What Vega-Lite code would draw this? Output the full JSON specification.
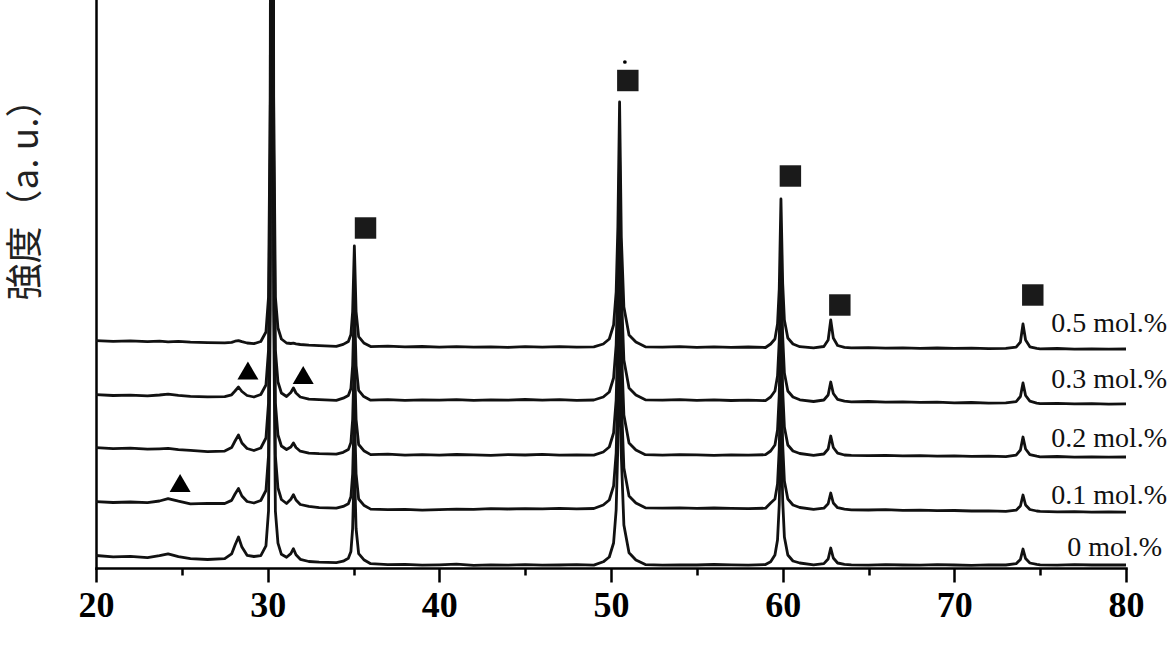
{
"$schema": "https://vega.github.io/schema/vega-lite/v6.json",
"width": 1030,
"height": 568,
"autosize": {"type": "none"},
"padding": {"left": 96, "top": 0, "right": 44, "bottom": 82},
"background": "white",
"config": {"view": {"stroke": null}},
"datasets": {
"traces": [
{"c":"0 mol.%","x":20,"y":12.5},{"c":"0 mol.%","x":21,"y":11.2},{"c":"0 mol.%","x":22,"y":11.6},{"c":"0 mol.%","x":23,"y":10.4},{"c":"0 mol.%","x":23.7,"y":12.3},{"c":"0 mol.%","x":24.2,"y":14.2},{"c":"0 mol.%","x":24.8,"y":11.4},{"c":"0 mol.%","x":25.5,"y":9.4},{"c":"0 mol.%","x":26.5,"y":8.5},{"c":"0 mol.%","x":27.5,"y":9.4},{"c":"0 mol.%","x":27.9,"y":14.1},{"c":"0 mol.%","x":28.1,"y":23},{"c":"0 mol.%","x":28.3,"y":31},{"c":"0 mol.%","x":28.5,"y":20.9},{"c":"0 mol.%","x":28.8,"y":12.7},{"c":"0 mol.%","x":29.2,"y":11.5},{"c":"0 mol.%","x":29.6,"y":12.3},{"c":"0 mol.%","x":29.9,"y":22.2},{"c":"0 mol.%","x":30.05,"y":57.1},{"c":"0 mol.%","x":30.15,"y":257},{"c":"0 mol.%","x":30.2,"y":907},{"c":"0 mol.%","x":30.25,"y":3007},{"c":"0 mol.%","x":30.3,"y":907},{"c":"0 mol.%","x":30.35,"y":257},{"c":"0 mol.%","x":30.45,"y":56.9},{"c":"0 mol.%","x":30.6,"y":24.8},{"c":"0 mol.%","x":30.8,"y":13.7},{"c":"0 mol.%","x":31.1,"y":10.8},{"c":"0 mol.%","x":31.35,"y":14.4},{"c":"0 mol.%","x":31.5,"y":19.3},{"c":"0 mol.%","x":31.65,"y":13.2},{"c":"0 mol.%","x":31.9,"y":8.7},{"c":"0 mol.%","x":32.4,"y":6.5},{"c":"0 mol.%","x":33,"y":5.8},{"c":"0 mol.%","x":34,"y":5.4},{"c":"0 mol.%","x":34.4,"y":6.8},{"c":"0 mol.%","x":34.7,"y":9.7},{"c":"0 mol.%","x":34.85,"y":16.6},{"c":"0 mol.%","x":34.95,"y":39.6},{"c":"0 mol.%","x":35.05,"y":104.5},{"c":"0 mol.%","x":35.15,"y":39.5},{"c":"0 mol.%","x":35.3,"y":14.4},{"c":"0 mol.%","x":35.6,"y":8.3},{"c":"0 mol.%","x":36,"y":4.3},{"c":"0 mol.%","x":37,"y":3.4},{"c":"0 mol.%","x":38,"y":3.6},{"c":"0 mol.%","x":39,"y":2.8},{"c":"0 mol.%","x":40,"y":3.2},{"c":"0 mol.%","x":41,"y":3.8},{"c":"0 mol.%","x":42,"y":2.7},{"c":"0 mol.%","x":43,"y":3.1},{"c":"0 mol.%","x":44,"y":2.9},{"c":"0 mol.%","x":45,"y":3.4},{"c":"0 mol.%","x":46,"y":2.8},{"c":"0 mol.%","x":47,"y":3.0},{"c":"0 mol.%","x":48,"y":3.3},{"c":"0 mol.%","x":49,"y":2.9},{"c":"0 mol.%","x":49.55,"y":6.2},{"c":"0 mol.%","x":49.9,"y":11},{"c":"0 mol.%","x":50.15,"y":25},{"c":"0 mol.%","x":50.3,"y":58},{"c":"0 mol.%","x":50.4,"y":123},{"c":"0 mol.%","x":50.5,"y":248},{"c":"0 mol.%","x":50.6,"y":113},{"c":"0 mol.%","x":50.75,"y":43},{"c":"0 mol.%","x":51.05,"y":15.2},{"c":"0 mol.%","x":51.45,"y":8},{"c":"0 mol.%","x":52,"y":3.4},{"c":"0 mol.%","x":53,"y":2.9},{"c":"0 mol.%","x":54,"y":3.2},{"c":"0 mol.%","x":55,"y":3.0},{"c":"0 mol.%","x":56,"y":3.5},{"c":"0 mol.%","x":57,"y":3.1},{"c":"0 mol.%","x":58,"y":2.8},{"c":"0 mol.%","x":59,"y":3.4},{"c":"0 mol.%","x":59.3,"y":6.2},{"c":"0 mol.%","x":59.55,"y":13},{"c":"0 mol.%","x":59.7,"y":28},{"c":"0 mol.%","x":59.8,"y":63},{"c":"0 mol.%","x":59.9,"y":152},{"c":"0 mol.%","x":60.0,"y":68},{"c":"0 mol.%","x":60.1,"y":31},{"c":"0 mol.%","x":60.3,"y":13},{"c":"0 mol.%","x":60.6,"y":7},{"c":"0 mol.%","x":61,"y":5},{"c":"0 mol.%","x":61.8,"y":3.2},{"c":"0 mol.%","x":62.4,"y":4.4},{"c":"0 mol.%","x":62.65,"y":9},{"c":"0 mol.%","x":62.8,"y":20},{"c":"0 mol.%","x":62.95,"y":10},{"c":"0 mol.%","x":63.2,"y":5},{"c":"0 mol.%","x":63.6,"y":3.7},{"c":"0 mol.%","x":64,"y":3.1},{"c":"0 mol.%","x":65,"y":2.8},{"c":"0 mol.%","x":66,"y":3.3},{"c":"0 mol.%","x":67,"y":3.0},{"c":"0 mol.%","x":68,"y":2.9},{"c":"0 mol.%","x":69,"y":3.4},{"c":"0 mol.%","x":70,"y":3.0},{"c":"0 mol.%","x":71,"y":2.7},{"c":"0 mol.%","x":72,"y":3.2},{"c":"0 mol.%","x":73,"y":3.0},{"c":"0 mol.%","x":73.6,"y":4.3},{"c":"0 mol.%","x":73.85,"y":8.6},{"c":"0 mol.%","x":74.0,"y":19},{"c":"0 mol.%","x":74.15,"y":9.4},{"c":"0 mol.%","x":74.4,"y":5},{"c":"0 mol.%","x":74.8,"y":3.6},{"c":"0 mol.%","x":75,"y":3.1},{"c":"0 mol.%","x":76,"y":2.9},{"c":"0 mol.%","x":77,"y":3.3},{"c":"0 mol.%","x":78,"y":3.0},{"c":"0 mol.%","x":79,"y":3.2},{"c":"0 mol.%","x":80,"y":3.0},
{"c":"0.1 mol.%","x":20,"y":66.4},{"c":"0.1 mol.%","x":21,"y":65.5},{"c":"0.1 mol.%","x":22,"y":66.0},{"c":"0.1 mol.%","x":23,"y":65.3},{"c":"0.1 mol.%","x":23.7,"y":67.0},{"c":"0.1 mol.%","x":24.2,"y":69.3},{"c":"0.1 mol.%","x":24.8,"y":66.8},{"c":"0.1 mol.%","x":25.5,"y":64.2},{"c":"0.1 mol.%","x":26.5,"y":64.6},{"c":"0.1 mol.%","x":27.5,"y":64.5},{"c":"0.1 mol.%","x":27.9,"y":67.6},{"c":"0.1 mol.%","x":28.1,"y":74},{"c":"0.1 mol.%","x":28.3,"y":79.5},{"c":"0.1 mol.%","x":28.5,"y":72},{"c":"0.1 mol.%","x":28.8,"y":66.5},{"c":"0.1 mol.%","x":29.2,"y":65},{"c":"0.1 mol.%","x":29.6,"y":67.5},{"c":"0.1 mol.%","x":29.9,"y":77.5},{"c":"0.1 mol.%","x":30.05,"y":112.5},{"c":"0.1 mol.%","x":30.15,"y":312},{"c":"0.1 mol.%","x":30.2,"y":962},{"c":"0.1 mol.%","x":30.25,"y":3062},{"c":"0.1 mol.%","x":30.3,"y":962},{"c":"0.1 mol.%","x":30.35,"y":312},{"c":"0.1 mol.%","x":30.45,"y":112},{"c":"0.1 mol.%","x":30.6,"y":80},{"c":"0.1 mol.%","x":30.8,"y":68.5},{"c":"0.1 mol.%","x":31.1,"y":64.5},{"c":"0.1 mol.%","x":31.35,"y":68.8},{"c":"0.1 mol.%","x":31.5,"y":73.4},{"c":"0.1 mol.%","x":31.65,"y":68},{"c":"0.1 mol.%","x":31.9,"y":63.5},{"c":"0.1 mol.%","x":32.4,"y":61.6},{"c":"0.1 mol.%","x":33,"y":60.3},{"c":"0.1 mol.%","x":34,"y":59.8},{"c":"0.1 mol.%","x":34.4,"y":61.6},{"c":"0.1 mol.%","x":34.7,"y":64.3},{"c":"0.1 mol.%","x":34.85,"y":71.2},{"c":"0.1 mol.%","x":34.95,"y":94},{"c":"0.1 mol.%","x":35.05,"y":159},{"c":"0.1 mol.%","x":35.15,"y":94},{"c":"0.1 mol.%","x":35.3,"y":69},{"c":"0.1 mol.%","x":35.6,"y":62.8},{"c":"0.1 mol.%","x":36,"y":58.9},{"c":"0.1 mol.%","x":37,"y":58.3},{"c":"0.1 mol.%","x":38,"y":58.7},{"c":"0.1 mol.%","x":39,"y":57.9},{"c":"0.1 mol.%","x":40,"y":58.3},{"c":"0.1 mol.%","x":41,"y":58.9},{"c":"0.1 mol.%","x":42,"y":58.6},{"c":"0.1 mol.%","x":43,"y":59.3},{"c":"0.1 mol.%","x":44,"y":59.0},{"c":"0.1 mol.%","x":45,"y":59.4},{"c":"0.1 mol.%","x":46,"y":59.1},{"c":"0.1 mol.%","x":47,"y":59.6},{"c":"0.1 mol.%","x":48,"y":59.2},{"c":"0.1 mol.%","x":49,"y":59.5},{"c":"0.1 mol.%","x":49.55,"y":63},{"c":"0.1 mol.%","x":49.9,"y":68},{"c":"0.1 mol.%","x":50.15,"y":82},{"c":"0.1 mol.%","x":50.3,"y":115},{"c":"0.1 mol.%","x":50.4,"y":180},{"c":"0.1 mol.%","x":50.5,"y":305},{"c":"0.1 mol.%","x":50.6,"y":170},{"c":"0.1 mol.%","x":50.75,"y":100},{"c":"0.1 mol.%","x":51.05,"y":72},{"c":"0.1 mol.%","x":51.45,"y":65},{"c":"0.1 mol.%","x":52,"y":60.2},{"c":"0.1 mol.%","x":53,"y":59.8},{"c":"0.1 mol.%","x":54,"y":60.1},{"c":"0.1 mol.%","x":55,"y":59.7},{"c":"0.1 mol.%","x":56,"y":60.0},{"c":"0.1 mol.%","x":57,"y":59.6},{"c":"0.1 mol.%","x":58,"y":59.4},{"c":"0.1 mol.%","x":59,"y":59.8},{"c":"0.1 mol.%","x":59.3,"y":65},{"c":"0.1 mol.%","x":59.55,"y":69},{"c":"0.1 mol.%","x":59.7,"y":84},{"c":"0.1 mol.%","x":59.8,"y":119},{"c":"0.1 mol.%","x":59.9,"y":208},{"c":"0.1 mol.%","x":60.0,"y":124},{"c":"0.1 mol.%","x":60.1,"y":87},{"c":"0.1 mol.%","x":60.3,"y":69},{"c":"0.1 mol.%","x":60.6,"y":63},{"c":"0.1 mol.%","x":61,"y":60.5},{"c":"0.1 mol.%","x":61.8,"y":58.6},{"c":"0.1 mol.%","x":62.4,"y":59.8},{"c":"0.1 mol.%","x":62.65,"y":64.2},{"c":"0.1 mol.%","x":62.8,"y":75},{"c":"0.1 mol.%","x":62.95,"y":65},{"c":"0.1 mol.%","x":63.2,"y":60.3},{"c":"0.1 mol.%","x":63.6,"y":58.9},{"c":"0.1 mol.%","x":64,"y":58.2},{"c":"0.1 mol.%","x":65,"y":58.0},{"c":"0.1 mol.%","x":66,"y":58.4},{"c":"0.1 mol.%","x":67,"y":57.6},{"c":"0.1 mol.%","x":68,"y":57.9},{"c":"0.1 mol.%","x":69,"y":57.3},{"c":"0.1 mol.%","x":70,"y":57.5},{"c":"0.1 mol.%","x":71,"y":57.0},{"c":"0.1 mol.%","x":72,"y":57.2},{"c":"0.1 mol.%","x":73,"y":56.6},{"c":"0.1 mol.%","x":73.6,"y":57.8},{"c":"0.1 mol.%","x":73.85,"y":62},{"c":"0.1 mol.%","x":74.0,"y":73},{"c":"0.1 mol.%","x":74.15,"y":63},{"c":"0.1 mol.%","x":74.4,"y":58.5},{"c":"0.1 mol.%","x":74.8,"y":57},{"c":"0.1 mol.%","x":75,"y":56.6},{"c":"0.1 mol.%","x":76,"y":56.2},{"c":"0.1 mol.%","x":77,"y":56.4},{"c":"0.1 mol.%","x":78,"y":55.9},{"c":"0.1 mol.%","x":79,"y":56.1},{"c":"0.1 mol.%","x":80,"y":55.8},
{"c":"0.2 mol.%","x":20,"y":120.3},{"c":"0.2 mol.%","x":21,"y":119.4},{"c":"0.2 mol.%","x":22,"y":119.8},{"c":"0.2 mol.%","x":23,"y":118.9},{"c":"0.2 mol.%","x":23.7,"y":119.2},{"c":"0.2 mol.%","x":24.2,"y":119.6},{"c":"0.2 mol.%","x":24.8,"y":118.3},{"c":"0.2 mol.%","x":25.5,"y":117.6},{"c":"0.2 mol.%","x":26.5,"y":116.4},{"c":"0.2 mol.%","x":27.5,"y":116.9},{"c":"0.2 mol.%","x":27.9,"y":120.4},{"c":"0.2 mol.%","x":28.1,"y":127},{"c":"0.2 mol.%","x":28.3,"y":133},{"c":"0.2 mol.%","x":28.5,"y":125},{"c":"0.2 mol.%","x":28.8,"y":119.5},{"c":"0.2 mol.%","x":29.2,"y":117.5},{"c":"0.2 mol.%","x":29.6,"y":120},{"c":"0.2 mol.%","x":29.9,"y":130},{"c":"0.2 mol.%","x":30.05,"y":165},{"c":"0.2 mol.%","x":30.15,"y":365},{"c":"0.2 mol.%","x":30.2,"y":1015},{"c":"0.2 mol.%","x":30.25,"y":3115},{"c":"0.2 mol.%","x":30.3,"y":1015},{"c":"0.2 mol.%","x":30.35,"y":365},{"c":"0.2 mol.%","x":30.45,"y":165},{"c":"0.2 mol.%","x":30.6,"y":133},{"c":"0.2 mol.%","x":30.8,"y":122},{"c":"0.2 mol.%","x":31.1,"y":118.5},{"c":"0.2 mol.%","x":31.35,"y":121},{"c":"0.2 mol.%","x":31.5,"y":125},{"c":"0.2 mol.%","x":31.65,"y":120.5},{"c":"0.2 mol.%","x":31.9,"y":116.8},{"c":"0.2 mol.%","x":32.4,"y":114.9},{"c":"0.2 mol.%","x":33,"y":114.3},{"c":"0.2 mol.%","x":34,"y":113.8},{"c":"0.2 mol.%","x":34.4,"y":115.7},{"c":"0.2 mol.%","x":34.7,"y":118.4},{"c":"0.2 mol.%","x":34.85,"y":125.6},{"c":"0.2 mol.%","x":34.95,"y":148.4},{"c":"0.2 mol.%","x":35.05,"y":213.5},{"c":"0.2 mol.%","x":35.15,"y":148.5},{"c":"0.2 mol.%","x":35.3,"y":123.5},{"c":"0.2 mol.%","x":35.6,"y":117.3},{"c":"0.2 mol.%","x":36,"y":113.4},{"c":"0.2 mol.%","x":37,"y":113.8},{"c":"0.2 mol.%","x":38,"y":112.9},{"c":"0.2 mol.%","x":39,"y":113.3},{"c":"0.2 mol.%","x":40,"y":112.8},{"c":"0.2 mol.%","x":41,"y":113.5},{"c":"0.2 mol.%","x":42,"y":113.1},{"c":"0.2 mol.%","x":43,"y":112.7},{"c":"0.2 mol.%","x":44,"y":113.4},{"c":"0.2 mol.%","x":45,"y":113.0},{"c":"0.2 mol.%","x":46,"y":113.6},{"c":"0.2 mol.%","x":47,"y":112.9},{"c":"0.2 mol.%","x":48,"y":113.2},{"c":"0.2 mol.%","x":49,"y":112.8},{"c":"0.2 mol.%","x":49.55,"y":116},{"c":"0.2 mol.%","x":49.9,"y":121},{"c":"0.2 mol.%","x":50.15,"y":135},{"c":"0.2 mol.%","x":50.3,"y":168},{"c":"0.2 mol.%","x":50.4,"y":233},{"c":"0.2 mol.%","x":50.5,"y":358},{"c":"0.2 mol.%","x":50.6,"y":223},{"c":"0.2 mol.%","x":50.75,"y":153},{"c":"0.2 mol.%","x":51.05,"y":125},{"c":"0.2 mol.%","x":51.45,"y":118},{"c":"0.2 mol.%","x":52,"y":113.3},{"c":"0.2 mol.%","x":53,"y":112.9},{"c":"0.2 mol.%","x":54,"y":113.4},{"c":"0.2 mol.%","x":55,"y":113.1},{"c":"0.2 mol.%","x":56,"y":112.7},{"c":"0.2 mol.%","x":57,"y":113.2},{"c":"0.2 mol.%","x":58,"y":112.8},{"c":"0.2 mol.%","x":59,"y":113.3},{"c":"0.2 mol.%","x":59.3,"y":117},{"c":"0.2 mol.%","x":59.55,"y":123},{"c":"0.2 mol.%","x":59.7,"y":138},{"c":"0.2 mol.%","x":59.8,"y":173},{"c":"0.2 mol.%","x":59.9,"y":262},{"c":"0.2 mol.%","x":60.0,"y":178},{"c":"0.2 mol.%","x":60.1,"y":141},{"c":"0.2 mol.%","x":60.3,"y":123},{"c":"0.2 mol.%","x":60.6,"y":117},{"c":"0.2 mol.%","x":61,"y":114.5},{"c":"0.2 mol.%","x":61.8,"y":112.6},{"c":"0.2 mol.%","x":62.4,"y":114},{"c":"0.2 mol.%","x":62.65,"y":119},{"c":"0.2 mol.%","x":62.8,"y":132},{"c":"0.2 mol.%","x":62.95,"y":120.5},{"c":"0.2 mol.%","x":63.2,"y":114.8},{"c":"0.2 mol.%","x":63.6,"y":113},{"c":"0.2 mol.%","x":64,"y":112.6},{"c":"0.2 mol.%","x":65,"y":112.3},{"c":"0.2 mol.%","x":66,"y":112.7},{"c":"0.2 mol.%","x":67,"y":112.1},{"c":"0.2 mol.%","x":68,"y":112.4},{"c":"0.2 mol.%","x":69,"y":111.9},{"c":"0.2 mol.%","x":70,"y":112.2},{"c":"0.2 mol.%","x":71,"y":111.7},{"c":"0.2 mol.%","x":72,"y":111.9},{"c":"0.2 mol.%","x":73,"y":111.4},{"c":"0.2 mol.%","x":73.6,"y":112.8},{"c":"0.2 mol.%","x":73.85,"y":118},{"c":"0.2 mol.%","x":74.0,"y":131},{"c":"0.2 mol.%","x":74.15,"y":119},{"c":"0.2 mol.%","x":74.4,"y":113.4},{"c":"0.2 mol.%","x":74.8,"y":111.8},{"c":"0.2 mol.%","x":75,"y":111.2},{"c":"0.2 mol.%","x":76,"y":111.5},{"c":"0.2 mol.%","x":77,"y":110.9},{"c":"0.2 mol.%","x":78,"y":111.2},{"c":"0.2 mol.%","x":79,"y":110.8},{"c":"0.2 mol.%","x":80,"y":111.0},
{"c":"0.3 mol.%","x":20,"y":173.3},{"c":"0.3 mol.%","x":21,"y":172.5},{"c":"0.3 mol.%","x":22,"y":172.9},{"c":"0.3 mol.%","x":23,"y":172.2},{"c":"0.3 mol.%","x":23.7,"y":173.0},{"c":"0.3 mol.%","x":24.2,"y":173.8},{"c":"0.3 mol.%","x":24.8,"y":172.6},{"c":"0.3 mol.%","x":25.5,"y":171.7},{"c":"0.3 mol.%","x":26.5,"y":171.2},{"c":"0.3 mol.%","x":27.5,"y":171.4},{"c":"0.3 mol.%","x":27.9,"y":173.2},{"c":"0.3 mol.%","x":28.1,"y":177},{"c":"0.3 mol.%","x":28.3,"y":181},{"c":"0.3 mol.%","x":28.5,"y":176.5},{"c":"0.3 mol.%","x":28.8,"y":172.5},{"c":"0.3 mol.%","x":29.2,"y":171},{"c":"0.3 mol.%","x":29.6,"y":173.5},{"c":"0.3 mol.%","x":29.9,"y":183},{"c":"0.3 mol.%","x":30.05,"y":218},{"c":"0.3 mol.%","x":30.15,"y":418},{"c":"0.3 mol.%","x":30.2,"y":1068},{"c":"0.3 mol.%","x":30.25,"y":3168},{"c":"0.3 mol.%","x":30.3,"y":1068},{"c":"0.3 mol.%","x":30.35,"y":418},{"c":"0.3 mol.%","x":30.45,"y":218},{"c":"0.3 mol.%","x":30.6,"y":186},{"c":"0.3 mol.%","x":30.8,"y":175},{"c":"0.3 mol.%","x":31.1,"y":171.5},{"c":"0.3 mol.%","x":31.35,"y":175.5},{"c":"0.3 mol.%","x":31.5,"y":180},{"c":"0.3 mol.%","x":31.65,"y":175},{"c":"0.3 mol.%","x":31.9,"y":171},{"c":"0.3 mol.%","x":32.4,"y":168.8},{"c":"0.3 mol.%","x":33,"y":168.4},{"c":"0.3 mol.%","x":34,"y":167.7},{"c":"0.3 mol.%","x":34.4,"y":169.8},{"c":"0.3 mol.%","x":34.7,"y":172.6},{"c":"0.3 mol.%","x":34.85,"y":179.6},{"c":"0.3 mol.%","x":34.95,"y":202.5},{"c":"0.3 mol.%","x":35.05,"y":267.6},{"c":"0.3 mol.%","x":35.15,"y":202.4},{"c":"0.3 mol.%","x":35.3,"y":177.6},{"c":"0.3 mol.%","x":35.6,"y":171.4},{"c":"0.3 mol.%","x":36,"y":167.8},{"c":"0.3 mol.%","x":37,"y":168.3},{"c":"0.3 mol.%","x":38,"y":167.6},{"c":"0.3 mol.%","x":39,"y":168.1},{"c":"0.3 mol.%","x":40,"y":167.9},{"c":"0.3 mol.%","x":41,"y":168.4},{"c":"0.3 mol.%","x":42,"y":167.7},{"c":"0.3 mol.%","x":43,"y":168.2},{"c":"0.3 mol.%","x":44,"y":167.8},{"c":"0.3 mol.%","x":45,"y":168.5},{"c":"0.3 mol.%","x":46,"y":167.9},{"c":"0.3 mol.%","x":47,"y":168.3},{"c":"0.3 mol.%","x":48,"y":167.6},{"c":"0.3 mol.%","x":49,"y":168.0},{"c":"0.3 mol.%","x":49.55,"y":171},{"c":"0.3 mol.%","x":49.9,"y":176},{"c":"0.3 mol.%","x":50.15,"y":190},{"c":"0.3 mol.%","x":50.3,"y":223},{"c":"0.3 mol.%","x":50.4,"y":288},{"c":"0.3 mol.%","x":50.5,"y":413},{"c":"0.3 mol.%","x":50.6,"y":278},{"c":"0.3 mol.%","x":50.75,"y":208},{"c":"0.3 mol.%","x":51.05,"y":180},{"c":"0.3 mol.%","x":51.45,"y":173},{"c":"0.3 mol.%","x":52,"y":168.2},{"c":"0.3 mol.%","x":53,"y":167.8},{"c":"0.3 mol.%","x":54,"y":168.3},{"c":"0.3 mol.%","x":55,"y":167.6},{"c":"0.3 mol.%","x":56,"y":168.1},{"c":"0.3 mol.%","x":57,"y":167.5},{"c":"0.3 mol.%","x":58,"y":167.8},{"c":"0.3 mol.%","x":59,"y":167.4},{"c":"0.3 mol.%","x":59.3,"y":171},{"c":"0.3 mol.%","x":59.55,"y":177},{"c":"0.3 mol.%","x":59.7,"y":192},{"c":"0.3 mol.%","x":59.8,"y":227},{"c":"0.3 mol.%","x":59.9,"y":315},{"c":"0.3 mol.%","x":60.0,"y":232},{"c":"0.3 mol.%","x":60.1,"y":195},{"c":"0.3 mol.%","x":60.3,"y":177},{"c":"0.3 mol.%","x":60.6,"y":171},{"c":"0.3 mol.%","x":61,"y":168.2},{"c":"0.3 mol.%","x":61.8,"y":166.5},{"c":"0.3 mol.%","x":62.4,"y":168},{"c":"0.3 mol.%","x":62.65,"y":173},{"c":"0.3 mol.%","x":62.8,"y":186},{"c":"0.3 mol.%","x":62.95,"y":174.5},{"c":"0.3 mol.%","x":63.2,"y":168.7},{"c":"0.3 mol.%","x":63.6,"y":166.8},{"c":"0.3 mol.%","x":64,"y":166.2},{"c":"0.3 mol.%","x":65,"y":166.5},{"c":"0.3 mol.%","x":66,"y":165.9},{"c":"0.3 mol.%","x":67,"y":166.2},{"c":"0.3 mol.%","x":68,"y":165.6},{"c":"0.3 mol.%","x":69,"y":165.8},{"c":"0.3 mol.%","x":70,"y":165.2},{"c":"0.3 mol.%","x":71,"y":165.5},{"c":"0.3 mol.%","x":72,"y":164.9},{"c":"0.3 mol.%","x":73,"y":165.1},{"c":"0.3 mol.%","x":73.6,"y":166.4},{"c":"0.3 mol.%","x":73.85,"y":171.5},{"c":"0.3 mol.%","x":74.0,"y":185},{"c":"0.3 mol.%","x":74.15,"y":172.5},{"c":"0.3 mol.%","x":74.4,"y":166.8},{"c":"0.3 mol.%","x":74.8,"y":164.9},{"c":"0.3 mol.%","x":75,"y":164.4},{"c":"0.3 mol.%","x":76,"y":164.7},{"c":"0.3 mol.%","x":77,"y":164.1},{"c":"0.3 mol.%","x":78,"y":164.4},{"c":"0.3 mol.%","x":79,"y":163.9},{"c":"0.3 mol.%","x":80,"y":164.1},
{"c":"0.5 mol.%","x":20,"y":227.4},{"c":"0.5 mol.%","x":21,"y":226.6},{"c":"0.5 mol.%","x":22,"y":227.1},{"c":"0.5 mol.%","x":23,"y":226.3},{"c":"0.5 mol.%","x":23.7,"y":226.8},{"c":"0.5 mol.%","x":24.2,"y":226.2},{"c":"0.5 mol.%","x":24.8,"y":226.7},{"c":"0.5 mol.%","x":25.5,"y":225.8},{"c":"0.5 mol.%","x":26.5,"y":225.4},{"c":"0.5 mol.%","x":27.5,"y":225.1},{"c":"0.5 mol.%","x":27.9,"y":225.6},{"c":"0.5 mol.%","x":28.1,"y":226.8},{"c":"0.5 mol.%","x":28.3,"y":227.4},{"c":"0.5 mol.%","x":28.5,"y":226.3},{"c":"0.5 mol.%","x":28.8,"y":225},{"c":"0.5 mol.%","x":29.2,"y":224.3},{"c":"0.5 mol.%","x":29.6,"y":226.5},{"c":"0.5 mol.%","x":29.9,"y":236},{"c":"0.5 mol.%","x":30.05,"y":271},{"c":"0.5 mol.%","x":30.15,"y":471},{"c":"0.5 mol.%","x":30.2,"y":1121},{"c":"0.5 mol.%","x":30.25,"y":3221},{"c":"0.5 mol.%","x":30.3,"y":1121},{"c":"0.5 mol.%","x":30.35,"y":471},{"c":"0.5 mol.%","x":30.45,"y":271},{"c":"0.5 mol.%","x":30.6,"y":240},{"c":"0.5 mol.%","x":30.8,"y":229},{"c":"0.5 mol.%","x":31.1,"y":225},{"c":"0.5 mol.%","x":31.35,"y":224.5},{"c":"0.5 mol.%","x":31.5,"y":224.8},{"c":"0.5 mol.%","x":31.65,"y":224.1},{"c":"0.5 mol.%","x":31.9,"y":223.5},{"c":"0.5 mol.%","x":32.4,"y":222.8},{"c":"0.5 mol.%","x":33,"y":222.3},{"c":"0.5 mol.%","x":34,"y":221.7},{"c":"0.5 mol.%","x":34.4,"y":223.6},{"c":"0.5 mol.%","x":34.7,"y":226.5},{"c":"0.5 mol.%","x":34.85,"y":233.6},{"c":"0.5 mol.%","x":34.95,"y":256.5},{"c":"0.5 mol.%","x":35.05,"y":322},{"c":"0.5 mol.%","x":35.15,"y":256.4},{"c":"0.5 mol.%","x":35.3,"y":231.3},{"c":"0.5 mol.%","x":35.6,"y":225.1},{"c":"0.5 mol.%","x":36,"y":221.4},{"c":"0.5 mol.%","x":37,"y":221.8},{"c":"0.5 mol.%","x":38,"y":221.1},{"c":"0.5 mol.%","x":39,"y":221.5},{"c":"0.5 mol.%","x":40,"y":220.9},{"c":"0.5 mol.%","x":41,"y":221.4},{"c":"0.5 mol.%","x":42,"y":220.8},{"c":"0.5 mol.%","x":43,"y":221.2},{"c":"0.5 mol.%","x":44,"y":220.7},{"c":"0.5 mol.%","x":45,"y":221.3},{"c":"0.5 mol.%","x":46,"y":220.9},{"c":"0.5 mol.%","x":47,"y":221.4},{"c":"0.5 mol.%","x":48,"y":220.8},{"c":"0.5 mol.%","x":49,"y":221.1},{"c":"0.5 mol.%","x":49.55,"y":224},{"c":"0.5 mol.%","x":49.9,"y":229},{"c":"0.5 mol.%","x":50.15,"y":243},{"c":"0.5 mol.%","x":50.3,"y":276},{"c":"0.5 mol.%","x":50.4,"y":341},{"c":"0.5 mol.%","x":50.5,"y":466},{"c":"0.5 mol.%","x":50.6,"y":331},{"c":"0.5 mol.%","x":50.75,"y":261},{"c":"0.5 mol.%","x":51.05,"y":233},{"c":"0.5 mol.%","x":51.45,"y":226},{"c":"0.5 mol.%","x":52,"y":221.2},{"c":"0.5 mol.%","x":53,"y":220.8},{"c":"0.5 mol.%","x":54,"y":221.3},{"c":"0.5 mol.%","x":55,"y":220.7},{"c":"0.5 mol.%","x":56,"y":221.1},{"c":"0.5 mol.%","x":57,"y":220.6},{"c":"0.5 mol.%","x":58,"y":221.0},{"c":"0.5 mol.%","x":59,"y":220.5},{"c":"0.5 mol.%","x":59.3,"y":224},{"c":"0.5 mol.%","x":59.55,"y":229},{"c":"0.5 mol.%","x":59.7,"y":244},{"c":"0.5 mol.%","x":59.8,"y":279},{"c":"0.5 mol.%","x":59.9,"y":369},{"c":"0.5 mol.%","x":60.0,"y":285},{"c":"0.5 mol.%","x":60.1,"y":248},{"c":"0.5 mol.%","x":60.3,"y":230},{"c":"0.5 mol.%","x":60.6,"y":224},{"c":"0.5 mol.%","x":61,"y":221.3},{"c":"0.5 mol.%","x":61.8,"y":220.2},{"c":"0.5 mol.%","x":62.4,"y":221.5},{"c":"0.5 mol.%","x":62.65,"y":228},{"c":"0.5 mol.%","x":62.8,"y":248},{"c":"0.5 mol.%","x":62.95,"y":230},{"c":"0.5 mol.%","x":63.2,"y":222.5},{"c":"0.5 mol.%","x":63.6,"y":220.6},{"c":"0.5 mol.%","x":64,"y":220.1},{"c":"0.5 mol.%","x":65,"y":220.4},{"c":"0.5 mol.%","x":66,"y":219.9},{"c":"0.5 mol.%","x":67,"y":220.2},{"c":"0.5 mol.%","x":68,"y":219.7},{"c":"0.5 mol.%","x":69,"y":220.0},{"c":"0.5 mol.%","x":70,"y":219.6},{"c":"0.5 mol.%","x":71,"y":219.9},{"c":"0.5 mol.%","x":72,"y":219.4},{"c":"0.5 mol.%","x":73,"y":219.6},{"c":"0.5 mol.%","x":73.6,"y":220.8},{"c":"0.5 mol.%","x":73.85,"y":226},{"c":"0.5 mol.%","x":74.0,"y":244},{"c":"0.5 mol.%","x":74.15,"y":228},{"c":"0.5 mol.%","x":74.4,"y":221.2},{"c":"0.5 mol.%","x":74.8,"y":219.6},{"c":"0.5 mol.%","x":75,"y":219.2},{"c":"0.5 mol.%","x":76,"y":219.5},{"c":"0.5 mol.%","x":77,"y":218.9},{"c":"0.5 mol.%","x":78,"y":219.2},{"c":"0.5 mol.%","x":79,"y":218.8},{"c":"0.5 mol.%","x":80,"y":219.0}
],
"squares": [{"x":35.7,"y":340},{"x":50.98,"y":487.5},{"x":60.45,"y":392},{"x":63.33,"y":263},{"x":74.57,"y":273}],
"triangles": [{"x":28.85,"y":197.5},{"x":32.07,"y":193},{"x":24.9,"y":85}],
"dots": [{"x":50.81,"y":506}],
"labels": [{"label":"0.5 mol.%","x":82.4,"y":244},{"label":"0.3 mol.%","x":82.4,"y":188},{"label":"0.2 mol.%","x":82.4,"y":129},{"label":"0.1 mol.%","x":82.4,"y":72},{"label":"0 mol.%","x":82.1,"y":20.5}]
},
"layer": [
{
"data": {"name": "traces"},
"mark": {"type": "line", "color": "#111111", "strokeWidth": 2.8, "clip": true, "strokeJoin": "round"},
"encoding": {
"x": {"field": "x", "type": "quantitative",
"scale": {"domain": [20, 80], "nice": false, "zero": false},
"axis": {"title": null, "values": [20,25,30,35,40,45,50,55,60,65,70,75,80], "grid": false,
"domain": true, "domainColor": "#000000", "domainWidth": 2.5, "domainCap": "square",
"tickColor": "#000000", "tickWidth": 2.5,
"tickSize": {"condition": {"test": "datum.value % 10 !== 0", "value": 7}, "value": 14},
"labelExpr": "datum.value % 10 === 0 ? datum.label : ''",
"labelFont": "Liberation Serif", "labelFontWeight": "bold", "labelFontSize": 36, "labelColor": "#000000",
"labelPadding": 6, "labelFlush": false, "labelOverlap": false}},
"y": {"field": "y", "type": "quantitative",
"scale": {"domain": [0, 568], "nice": false, "zero": false},
"axis": {"title": "強度（a. u.）", "ticks": false, "labels": false, "grid": false,
"domain": true, "domainColor": "#000000", "domainWidth": 2.5, "domainCap": "square",
"titleFont": "Noto Sans CJK JP", "titleFontSize": 37, "titleFontWeight": "normal", "titleColor": "#222222",
"titleAngle": -90, "titleX": -70, "titleY": 190, "titleAlign": "center", "titleBaseline": "middle"}},
"detail": {"field": "c", "type": "nominal"}
}
},
{
"data": {"name": "squares"},
"mark": {"type": "point", "shape": "square", "filled": true, "color": "#1a1a1a", "opacity": 1, "size": 460},
"encoding": {"x": {"field": "x", "type": "quantitative"}, "y": {"field": "y", "type": "quantitative"}}
},
{
"data": {"name": "triangles"},
"mark": {"type": "point", "shape": "triangle-up", "filled": true, "color": "#000000", "opacity": 1, "size": 441},
"encoding": {"x": {"field": "x", "type": "quantitative"}, "y": {"field": "y", "type": "quantitative"}}
},
{
"data": {"name": "dots"},
"mark": {"type": "point", "shape": "circle", "filled": true, "color": "#000000", "opacity": 1, "size": 14},
"encoding": {"x": {"field": "x", "type": "quantitative"}, "y": {"field": "y", "type": "quantitative"}}
},
{
"data": {"name": "labels"},
"mark": {"type": "text", "align": "right", "baseline": "middle", "font": "Liberation Serif", "fontSize": 28, "color": "#111111"},
"encoding": {"x": {"field": "x", "type": "quantitative"}, "y": {"field": "y", "type": "quantitative"}, "text": {"field": "label", "type": "nominal"}}
}
]
}
